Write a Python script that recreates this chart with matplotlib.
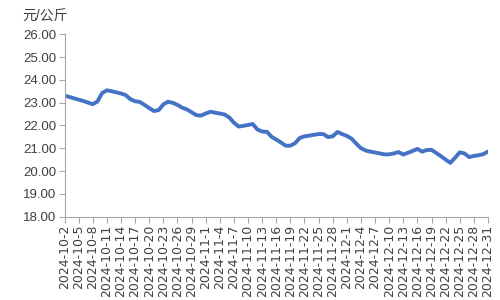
import matplotlib
matplotlib.use("Agg")
import matplotlib.pyplot as plt
import numpy as np
import pandas as pd

plt.rcParams['font.family'] = ['Liberation Sans', 'Noto Sans CJK SC', 'DejaVu Sans']

dates = pd.date_range('2024-10-02', '2024-12-31', freq='D')
date_labels = [f"{d.year}-{d.month}-{d.day}" for d in dates]

prices = [
    23.31, 23.25, 23.19, 23.13, 23.07, 23.00, 22.93, 23.05, 23.42, 23.54,
    23.50, 23.45, 23.40, 23.33, 23.15, 23.06, 23.03, 22.90, 22.76, 22.63,
    22.67, 22.92, 23.04, 22.99, 22.90, 22.78, 22.70, 22.58, 22.45, 22.43,
    22.52, 22.60, 22.56, 22.52, 22.48, 22.35, 22.12, 21.95, 21.98, 22.02,
    22.06, 21.82, 21.73, 21.72, 21.50, 21.38, 21.25, 21.11, 21.11, 21.22,
    21.45, 21.52, 21.55, 21.59, 21.62, 21.62, 21.49, 21.52, 21.71, 21.62,
    21.54, 21.42, 21.20, 21.00, 20.90, 20.85, 20.81, 20.77, 20.73, 20.73,
    20.77, 20.83, 20.72, 20.80, 20.88, 20.97, 20.85, 20.92, 20.93, 20.79,
    20.65, 20.50, 20.36, 20.58, 20.82, 20.77, 20.61, 20.66, 20.69, 20.74,
    20.85,
]

y_ticks = [18, 19, 20, 21, 22, 23, 24, 25, 26]
unit_label = "元/公斤"

fig = plt.figure(figsize=(5, 3), dpi=100)
ax = fig.add_axes([0.129, 0.278, 0.847, 0.608])

x = np.arange(len(prices))
ax.plot(x, prices, color='#4472C4', linewidth=2.8, solid_joinstyle='round', solid_capstyle='round')

ax.set_xlim(0, len(prices) - 1)
ax.set_ylim(18, 26)
ax.set_yticks(y_ticks)
ax.set_yticklabels([f"{v:.2f}" for v in y_ticks], fontsize=9.5, color='#404040')

tick_idx = x[::3]
ax.set_xticks(tick_idx)
ax.set_xticklabels([date_labels[i] for i in tick_idx], rotation=90, fontsize=9,
                   color='#404040', family=['DejaVu Sans'])

for s in ['top', 'right']:
    ax.spines[s].set_visible(False)
for s in ['left', 'bottom']:
    ax.spines[s].set_color('#A6A6A6')
    ax.spines[s].set_linewidth(0.8)
ax.tick_params(axis='both', which='major', length=4, width=0.8, color='#A6A6A6', pad=2)

fig.text(0.044, 0.945, unit_label, fontsize=10, color='#404040', va='center', ha='left')

fig.savefig('out.png', dpi=100)
